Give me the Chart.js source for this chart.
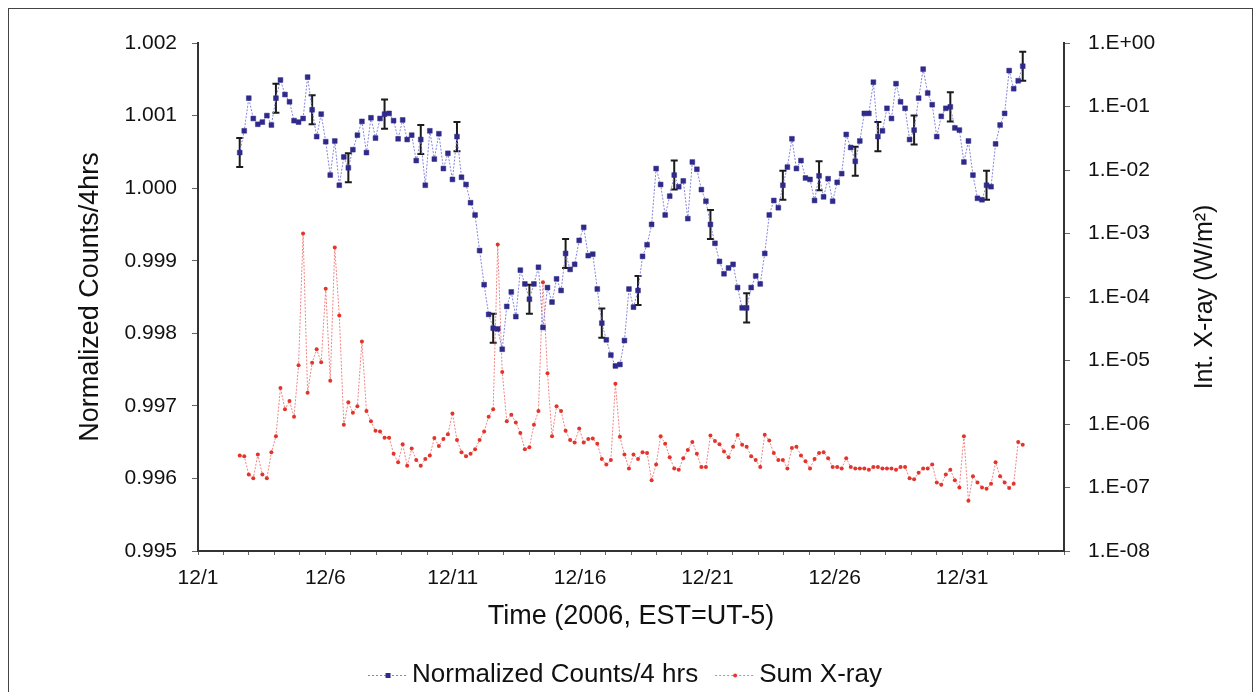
<!DOCTYPE html>
<html>
<head>
<meta charset="utf-8">
<title>Normalized counts and X-ray, December 2006</title>
<script src="https://cdn.jsdelivr.net/npm/chart.js@4.4.1/dist/chart.umd.min.js"></script>
<style>
  html, body { margin: 0; padding: 0; background: #fff; overflow: hidden; }
  #wrap { position: relative; width: 1259px; height: 692px; }
  #frame { position: absolute; left: 8px; top: 8px; width: 1243px; height: 700px; border: 1px solid #444; pointer-events: none; }
  canvas { position: absolute; left: 0; top: 0; }
</style>
</head>
<body>
<div id="wrap">
  <canvas id="chart" width="1259" height="692"></canvas>
  <div id="frame"></div>
</div>
<script>
// Datos: una muestra cada ~4 h
const firstSampleDay = 1.638;   // dias desde 12/1 0:00
const sampleStepDays = 0.1777;

const counts = [
  1.00049, 1.00079, 1.00124, 1.00096, 1.00088, 1.00091, 1.00100, 1.00087, 1.00124, 1.00149,
  1.00129, 1.00119, 1.00093, 1.00091, 1.00096, 1.00153, 1.00108, 1.00071, 1.00102, 1.00064,
  1.00018, 1.00065, 1.00004, 1.00043, 1.00028, 1.00053, 1.00073, 1.00092, 1.00049, 1.00097,
  1.00069, 1.00096, 1.00102, 1.00103, 1.00093, 1.00068, 1.00094, 1.00067, 1.00073, 1.00038,
  1.00067, 1.00004, 1.00079, 1.00040,
  1.00075, 1.00027, 1.00048, 1.00012, 1.00071, 1.00015, 1.00005, 0.99980, 0.99963, 0.99914,
  0.99867, 0.99826, 0.99807, 0.99806, 0.99778, 0.99837, 0.99857, 0.99823, 0.99887, 0.99868,
  0.99847, 0.99868, 0.99891, 0.99808, 0.99863, 0.99843, 0.99875, 0.99859, 0.99910, 0.99888,
  0.99895, 0.99928, 0.99946, 0.99907, 0.99909, 0.99861, 0.99814, 0.99791, 0.99770, 0.99755,
  0.99757, 0.99790, 0.99861, 0.99836,
  0.99859, 0.99906, 0.99922, 0.99950, 1.00027, 1.00005, 0.99963, 0.99989, 1.00018, 1.00002,
  1.00010, 0.99958, 1.00036, 1.00026, 0.99998, 0.99982, 0.99950, 0.99924, 0.99899, 0.99882,
  0.99890, 0.99895, 0.99863, 0.99835, 0.99835, 0.99863, 0.99879, 0.99868, 0.99910, 0.99963,
  0.99983, 0.99973, 1.00004, 1.00029, 1.00068, 1.00027, 1.00038, 1.00014, 1.00012, 0.99983,
  1.00017, 0.99988, 1.00013, 0.99982,
  1.00008, 1.00020, 1.00074, 1.00056, 1.00037, 1.00065, 1.00103, 1.00103, 1.00146, 1.00071,
  1.00079, 1.00110, 1.00096, 1.00144, 1.00119, 1.00110, 1.00067, 1.00080, 1.00124, 1.00164,
  1.00131, 1.00115, 1.00071, 1.00099, 1.00110, 1.00112, 1.00083, 1.00080, 1.00036, 1.00065,
  1.00018, 0.99986, 0.99984, 1.00004, 1.00002, 1.00061, 1.00087, 1.00103, 1.00162, 1.00137,
  1.00148, 1.00168
];

const xray = [
  3.2e-7, 3.1e-7, 1.6e-7, 1.4e-7, 3.3e-7, 1.6e-7, 1.4e-7, 3.6e-7, 6.4e-7, 3.7e-6,
  1.7e-6, 2.3e-6, 1.3e-6, 8.4e-6, 1.0e-3, 3.1e-6, 9.2e-6, 1.5e-5, 9.4e-6, 1.35e-4,
  4.8e-6, 6.0e-4, 5.1e-5, 9.7e-7, 2.2e-6, 1.5e-6, 1.9e-6, 2.0e-5, 1.6e-6, 1.1e-6,
  7.8e-7, 7.6e-7, 6.1e-7, 6.1e-7, 3.4e-7, 2.5e-7, 4.8e-7, 2.2e-7, 4.1e-7, 2.7e-7,
  2.2e-7, 2.8e-7, 3.2e-7, 6.0e-7, 4.5e-7,
  5.8e-7, 6.9e-7, 1.47e-6, 5.6e-7, 3.6e-7, 3.1e-7, 3.4e-7, 4.0e-7, 5.6e-7, 7.6e-7,
  1.3e-6, 1.7e-6, 6.7e-4, 6.6e-6, 1.1e-6, 1.4e-6, 1.06e-6, 7.2e-7, 4.0e-7, 4.3e-7,
  9.7e-7, 1.6e-6, 1.7e-4, 6.3e-6, 6.4e-7, 1.9e-6, 1.6e-6, 7.8e-7, 5.6e-7, 5.1e-7,
  8.5e-7, 5.1e-7, 5.8e-7, 5.9e-7, 4.9e-7, 2.8e-7, 2.3e-7, 2.7e-7, 4.3e-6, 6.3e-7,
  3.3e-7, 2.0e-7, 3.3e-7, 2.8e-7,
  3.6e-7, 3.5e-7, 1.3e-7, 2.3e-7, 6.4e-7, 4.9e-7, 3.0e-7, 2.0e-7, 1.9e-7, 2.9e-7,
  3.9e-7, 5.2e-7, 3.4e-7, 2.1e-7, 2.1e-7, 6.6e-7, 5.4e-7, 4.8e-7, 3.7e-7, 3.0e-7,
  4.4e-7, 6.7e-7, 4.7e-7, 4.4e-7, 3.1e-7, 2.7e-7, 2.1e-7, 6.8e-7, 5.5e-7, 3.5e-7,
  2.7e-7, 2.7e-7, 2.0e-7, 4.2e-7, 4.4e-7, 3.2e-7, 2.6e-7, 2.0e-7, 2.8e-7, 3.5e-7,
  3.6e-7, 2.9e-7, 2.1e-7, 2.1e-7,
  2.0e-7, 2.9e-7, 2.1e-7, 2.0e-7, 2.0e-7, 2.0e-7, 1.9e-7, 2.1e-7, 2.1e-7, 2.0e-7,
  2.0e-7, 2.0e-7, 1.9e-7, 2.1e-7, 2.1e-7, 1.4e-7, 1.35e-7, 1.7e-7, 2.0e-7, 2.0e-7,
  2.3e-7, 1.2e-7, 1.1e-7, 1.6e-7, 1.9e-7, 1.3e-7, 1.0e-7, 6.4e-7, 6.2e-8, 1.5e-7,
  1.2e-7, 1.0e-7, 9.6e-8, 1.15e-7, 2.5e-7, 1.5e-7, 1.2e-7, 9.8e-8, 1.15e-7, 5.2e-7,
  4.7e-7
];

// barras de error (+/-) en algunos puntos de la serie azul
const errorBarIndex = [0, 8, 16, 24, 32, 40, 48, 56, 64, 72, 80, 88, 96, 104, 112, 120, 128, 136, 141, 149, 157, 165, 173];
const countError = 0.0002;

const xTickLabels = ['12/1', '12/6', '12/11', '12/16', '12/21', '12/26', '12/31'];
const xrayTicks = [1e-8, 1e-7, 1e-6, 1e-5, 1e-4, 1e-3, 1e-2, 1e-1, 1];

const FONT = "'Liberation Sans', Arial, Helvetica, sans-serif";
Chart.defaults.font.family = FONT;
Chart.defaults.color = '#111';

function sampleDay(i) { return firstSampleDay + i * sampleStepDays; }

// iconos de la leyenda: linea punteada + marcador
function makeIcon(lineColor, markColor, square) {
    const c = document.createElement('canvas');
    c.width = 40; c.height = 10;
    const g = c.getContext('2d');
    g.strokeStyle = lineColor; g.lineWidth = 1; g.setLineDash([2, 2]);
    g.beginPath(); g.moveTo(0, 5.5); g.lineTo(40, 5.5); g.stroke();
    g.fillStyle = markColor;
    if (square) {
        g.fillRect(17.5, 3, 5, 5);
    } else {
        g.beginPath(); g.arc(20, 5.5, 2, 0, Math.PI * 2); g.fill();
    }
    return c;
}
const legendIcons = [makeIcon('#7f7fd8', '#2f2a8a', true), makeIcon('#ef7d7d', '#e3342b', false)];

const errorBars = {
    id: 'errorBars',
    beforeDatasetsDraw(chart) {
        const meta = chart.getDatasetMeta(0);
        const ys = chart.scales.y;
        const ctx = chart.ctx;
        ctx.save();
        ctx.strokeStyle = '#1b1b1b';
        ctx.lineWidth = 2;
        errorBarIndex.forEach(i => {
            const px = meta.data[i].x;
            const top = ys.getPixelForValue(counts[i] + countError);
            const bot = ys.getPixelForValue(counts[i] - countError);
            ctx.beginPath();
            ctx.moveTo(px, top); ctx.lineTo(px, bot);
            ctx.moveTo(px - 3.5, top); ctx.lineTo(px + 3.5, top);
            ctx.moveTo(px - 3.5, bot); ctx.lineTo(px + 3.5, bot);
            ctx.stroke();
        });
        ctx.restore();
    }
};

// titulo del eje derecho, leido de abajo hacia arriba como en el original
const rightTitle = {
    id: 'rightTitle',
    afterDraw(chart) {
        const s = chart.scales.y2;
        const ctx = chart.ctx;
        ctx.save();
        ctx.translate(s.right - 54, (s.top + s.bottom) / 2);
        ctx.rotate(-Math.PI / 2);
        ctx.font = '25px ' + FONT;
        ctx.fillStyle = '#111';
        ctx.textAlign = 'center';
        ctx.textBaseline = 'middle';
        ctx.fillText('Int. X-ray (W/m²)', 0, 0);
        ctx.restore();
    }
};

const ctx = document.getElementById('chart').getContext('2d');
new Chart(ctx, {
    type: 'line',
    data: {
        datasets: [{
            label: 'Normalized Counts/4 hrs',
            yAxisID: 'y',
            data: counts.map((v, i) => ({ x: sampleDay(i), y: v })),
            borderColor: '#8585dc',
            borderWidth: 1,
            borderDash: [2, 1.5],
            pointStyle: 'rect',
            pointRadius: 3.4,
            pointBackgroundColor: '#2f2a8a',
            pointBorderColor: '#2f2a8a',
            pointBorderWidth: 0.5,
            tension: 0,
            order: 0
        }, {
            label: 'Sum X-ray',
            yAxisID: 'y2',
            data: xray.map((v, i) => ({ x: sampleDay(i), y: v })),
            borderColor: '#f08585',
            borderWidth: 1,
            borderDash: [2, 1.5],
            pointStyle: 'circle',
            pointRadius: 2,
            pointBackgroundColor: '#e3342b',
            pointBorderColor: '#e3342b',
            pointBorderWidth: 0,
            tension: 0,
            order: 1
        }]
    },
    options: {
        responsive: false,
        animation: false,
        layout: { padding: { top: 43, left: 0, right: 0, bottom: -6 } },
        plugins: {
            tooltip: { enabled: false },
            legend: {
                position: 'bottom',
                labels: {
                    usePointStyle: true,
                    pointStyleWidth: 22,
                    padding: 26,
                    font: { size: 26 },
                    color: '#111',
                    generateLabels(chart) {
                        const items = Chart.defaults.plugins.legend.labels.generateLabels(chart);
                        items.forEach((it, i) => { it.pointStyle = legendIcons[i]; });
                        return items;
                    }
                }
            }
        },
        scales: {
            x: {
                type: 'linear',
                min: 0,
                max: 34,
                afterFit(scale) { scale.height = 85; },
                ticks: {
                    stepSize: 1,
                    autoSkip: false,
                    maxRotation: 0,
                    padding: 11,
                    font: { size: 21 },
                    color: '#111',
                    callback: v => (v % 5 === 0 ? xTickLabels[v / 5] : '')
                },
                grid: { drawOnChartArea: false, tickLength: 4, color: '#666' },
                border: { color: '#333', width: 2 },
                title: {
                    display: true,
                    text: 'Time (2006, EST=UT-5)',
                    font: { size: 27 },
                    color: '#111',
                    padding: { top: 0, bottom: 3 }
                }
            },
            y: {
                position: 'left',
                min: 0.995,
                max: 1.002,
                afterFit(scale) { scale.width = 198; },
                ticks: {
                    stepSize: 0.001,
                    padding: 15,
                    font: { size: 21 },
                    color: '#111',
                    callback: v => v.toFixed(3)
                },
                grid: { drawOnChartArea: false, tickLength: 6, color: '#666' },
                border: { color: '#333', width: 2 },
                title: {
                    display: true,
                    text: 'Normalized Counts/4hrs',
                    font: { size: 27 },
                    color: '#111',
                    padding: { top: 74, bottom: 0 }
                }
            },
            y2: {
                type: 'logarithmic',
                position: 'right',
                min: 1e-8,
                max: 1,
                afterFit(scale) { scale.width = 195; },
                afterBuildTicks(scale) { scale.ticks = xrayTicks.map(v => ({ value: v })); },
                ticks: {
                    padding: 18,
                    font: { size: 21 },
                    color: '#111',
                    callback: v => {
                        const e = Math.round(Math.log10(v));
                        return '1.E' + (e < 0 ? '-' : '+') + String(Math.abs(e)).padStart(2, '0');
                    }
                },
                grid: { drawOnChartArea: false, tickLength: 6, color: '#666' },
                border: { color: '#333', width: 2 }
            }
        }
    },
    plugins: [errorBars, rightTitle]
});
</script>
</body>
</html>
